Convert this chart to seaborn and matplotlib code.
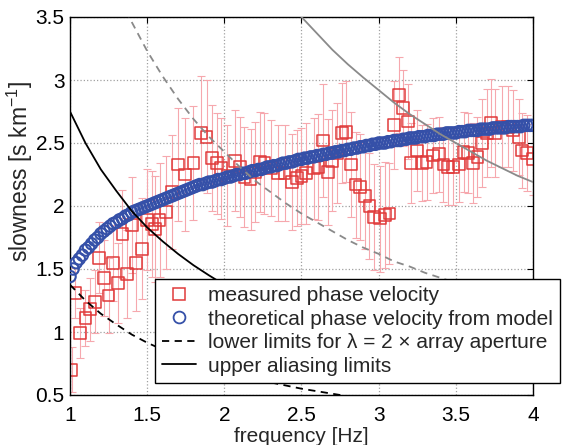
import numpy as np
import matplotlib
matplotlib.use("Agg")
import matplotlib.pyplot as plt
from matplotlib.lines import Line2D
import seaborn as sns

# ---------------- data ----------------
freq_meas = [1.01, 1.03, 1.065, 1.10, 1.13, 1.16, 1.19, 1.22, 1.25, 1.28,
             1.31, 1.34, 1.37, 1.40, 1.43, 1.465, 1.50, 1.53, 1.55, 1.58,
             1.62, 1.66, 1.70, 1.745, 1.80, 1.85, 1.885, 1.92, 1.95, 1.98,
             2.02, 2.07, 2.10, 2.13, 2.17, 2.20, 2.23, 2.26, 2.30, 2.35,
             2.39, 2.44, 2.47, 2.50, 2.53, 2.58, 2.61, 2.64, 2.67, 2.70,
             2.73, 2.76, 2.79, 2.82, 2.85, 2.88, 2.91, 2.94, 2.97, 3.01,
             3.04, 3.07, 3.10, 3.13, 3.16, 3.19, 3.21, 3.25, 3.28, 3.31,
             3.35, 3.39, 3.42, 3.45, 3.48, 3.52, 3.55, 3.58, 3.61, 3.64,
             3.67, 3.70, 3.73, 3.755, 3.80, 3.84, 3.87, 3.91, 3.93, 3.96,
             4.00]
slow_meas = [0.70, 1.31, 0.99, 1.11, 1.18, 1.24, 1.59, 1.43, 1.29, 1.55,
             1.39, 1.78, 1.46, 1.85, 1.55, 1.66, 1.89, 1.86, 1.82, 1.89,
             1.95, 2.11, 2.33, 2.25, 2.34, 2.58, 2.55, 2.38, 2.34, 2.30,
             2.24, 2.36, 2.31, 2.23, 2.21, 2.27, 2.35, 2.34, 2.30, 2.26,
             2.26, 2.19, 2.22, 2.24, 2.26, 2.30, 2.31, 2.52, 2.27, 2.36,
             2.42, 2.58, 2.59, 2.33, 2.17, 2.15, 2.08, 2.00, 1.91, 1.90,
             1.93, 1.94, 2.64, 2.88, 2.78, 2.67, 2.34, 2.44, 2.34, 2.35,
             2.40, 2.41, 2.33, 2.31, 2.31, 2.33, 2.43, 2.42, 2.34, 2.39,
             2.50, 2.58, 2.66, 2.58, 2.63, 2.63, 2.60, 2.55, 2.44, 2.42,
             2.37]
err_meas = [0.18, 0.20, 0.20, 0.22, 0.25, 0.25, 0.28, 0.30, 0.30, 0.30,
            0.32, 0.35, 0.35, 0.38, 0.38, 0.40, 0.40, 0.42, 0.42, 0.45,
            0.45, 0.45, 0.45, 0.45, 0.45, 0.45, 0.45, 0.42, 0.40, 0.40,
            0.40, 0.40, 0.40, 0.40, 0.40, 0.40, 0.40, 0.40, 0.38, 0.38,
            0.38, 0.38, 0.38, 0.38, 0.40, 0.40, 0.42, 0.45, 0.42, 0.40,
            0.40, 0.40, 0.40, 0.42, 0.42, 0.42, 0.42, 0.42, 0.42, 0.42,
            0.42, 0.40, 0.35, 0.30, 0.30, 0.30, 0.32, 0.32, 0.30, 0.30,
            0.30, 0.30, 0.30, 0.30, 0.30, 0.30, 0.32, 0.32, 0.32, 0.32,
            0.35, 0.35, 0.35, 0.35, 0.32, 0.32, 0.32, 0.30, 0.30, 0.30,
            0.28]

freq_theo = np.linspace(1.0, 4.0, 151)
slow_theo = [1.44, 1.50, 1.55, 1.58, 1.61, 1.65, 1.67, 1.70, 1.73, 1.75,
             1.78, 1.80, 1.82, 1.84, 1.86, 1.87, 1.89, 1.90, 1.92, 1.93,
             1.95, 1.96, 1.97, 1.98, 1.99, 2.00, 2.01, 2.02, 2.03, 2.04,
             2.05, 2.06, 2.07, 2.08, 2.09, 2.10, 2.11, 2.12, 2.13, 2.14,
             2.15, 2.16, 2.17, 2.17, 2.18, 2.19, 2.19, 2.20, 2.21, 2.21,
             2.22, 2.23, 2.23, 2.24, 2.25, 2.25, 2.26, 2.26, 2.27, 2.28,
             2.28, 2.29, 2.29, 2.30, 2.31, 2.31, 2.32, 2.32, 2.33, 2.34,
             2.34, 2.35, 2.35, 2.36, 2.37, 2.37, 2.38, 2.38, 2.39, 2.39,
             2.40, 2.40, 2.41, 2.41, 2.42, 2.42, 2.43, 2.43, 2.44, 2.44,
             2.45, 2.45, 2.46, 2.46, 2.47, 2.47, 2.48, 2.48, 2.49, 2.49,
             2.50, 2.50, 2.50, 2.51, 2.51, 2.52, 2.52, 2.52, 2.53, 2.53,
             2.54, 2.54, 2.54, 2.55, 2.55, 2.55, 2.56, 2.56, 2.56, 2.57,
             2.57, 2.57, 2.58, 2.58, 2.58, 2.58, 2.59, 2.59, 2.59, 2.60,
             2.60, 2.60, 2.60, 2.61, 2.61, 2.61, 2.61, 2.62, 2.62, 2.62,
             2.62, 2.62, 2.63, 2.63, 2.63, 2.63, 2.63, 2.64, 2.64, 2.64,
             2.64]

freq_lim = [1.0, 1.1, 1.2, 1.3, 1.4, 1.5, 1.6, 1.7, 1.8, 1.9, 2.0,
            2.1, 2.2, 2.3, 2.4, 2.5, 2.6, 2.7, 2.8, 2.9, 3.0,
            3.1, 3.2, 3.3, 3.4, 3.5, 3.6, 3.7, 3.8, 3.9, 4.0]
upper_alias = [2.75, 2.50, 2.29, 2.12, 1.96, 1.83, 1.72, 1.62, 1.53, 1.45, 1.375,
               1.31, 1.25, 1.20, 1.15, 1.10, 1.06, 1.02, 0.98, 0.95, 0.92,
               0.89, 0.86, 0.83, 0.81, 0.79, 0.76, 0.74, 0.72, 0.71, 0.69]
lower_lambda = [1.375, 1.25, 1.145, 1.06, 0.98, 0.915, 0.86, 0.81, 0.765, 0.725, 0.69,
                0.655, 0.625, 0.60, 0.575, 0.55, 0.53, 0.51, 0.49, 0.475, 0.46,
                0.445, 0.43, 0.415, 0.405, 0.395, 0.38, 0.37, 0.36, 0.355, 0.345]

freq_gray_dash = [1.3, 1.4, 1.5, 1.6, 1.7, 1.8, 1.9, 2.0, 2.1, 2.2, 2.3, 2.4, 2.5, 2.6,
                  2.7, 2.8, 2.9, 3.0, 3.1, 3.2, 3.3, 3.4, 3.5, 3.6, 3.7, 3.8, 3.9, 4.0]
gray_dash = [3.73, 3.46, 3.23, 3.03, 2.85, 2.69, 2.55, 2.43, 2.31, 2.20, 2.11, 2.02, 1.94, 1.87,
             1.80, 1.73, 1.67, 1.62, 1.56, 1.52, 1.47, 1.43, 1.39, 1.35, 1.31, 1.28, 1.24, 1.21]
freq_gray_solid = [2.4, 2.5, 2.6, 2.7, 2.8, 2.9, 3.0, 3.1, 3.2, 3.3, 3.4, 3.5, 3.6, 3.7, 3.8, 3.9, 4.0]
gray_solid = [3.65, 3.50, 3.37, 3.24, 3.125, 3.02, 2.92, 2.82, 2.73, 2.65, 2.57, 2.50, 2.43, 2.36, 2.30, 2.24, 2.19]

xticks = [1, 1.5, 2, 2.5, 3, 3.5, 4]
xticklabels = ["1", "1.5", "2", "2.5", "3", "3.5", "4"]
yticks = [0.5, 1, 1.5, 2, 2.5, 3, 3.5]
yticklabels = ["0.5", "1", "1.5", "2", "2.5", "3", "3.5"]

labels = ["measured phase velocity",
          "theoretical phase velocity from model",
          "lower limits for λ = 2 × array aperture",
          "upper aliasing limits"]

# ---------------- style ----------------
sns.set_style("white")
plt.rcParams['font.family'] = ['Liberation Sans', 'DejaVu Sans']
plt.rcParams['mathtext.fontset'] = 'custom'
plt.rcParams['mathtext.rm'] = 'Liberation Sans'
plt.rcParams['mathtext.it'] = 'Liberation Sans:italic'

RED = '#e03a3a'
PINK = '#f6a8ae'
BLUE = '#3550a8'

fig = plt.figure(figsize=(5.66, 4.45), dpi=100)
ax = fig.add_axes([70/566, 1-395/445, 463/566, 378/445])

ax.errorbar(freq_meas, slow_meas, yerr=err_meas, fmt='none', ecolor=PINK,
            elinewidth=0.8, capsize=3, capthick=0.8, zorder=1)
sns.scatterplot(x=freq_meas, y=slow_meas, marker='s', s=72, facecolor='none',
                edgecolor=RED, linewidth=1.1, ax=ax, zorder=2)
sns.scatterplot(x=freq_theo, y=slow_theo, marker='o', s=68, facecolor='none',
                edgecolor=BLUE, linewidth=1.5, ax=ax, zorder=3)

sns.lineplot(x=freq_gray_dash, y=gray_dash, color='#8a8a8a', lw=1.3,
             linestyle=(0, (4, 3)), ax=ax, zorder=4, sort=False)
sns.lineplot(x=freq_gray_solid, y=gray_solid, color='#8a8a8a', lw=1.3,
             ax=ax, zorder=4, sort=False)
sns.lineplot(x=freq_lim, y=lower_lambda, color='black', lw=1.3,
             linestyle=(0, (4, 3)), ax=ax, zorder=4, sort=False)
sns.lineplot(x=freq_lim, y=upper_alias, color='black', lw=1.3,
             ax=ax, zorder=4, sort=False)

ax.set_xlim(1, 4)
ax.set_ylim(0.5, 3.5)
ax.set_xticks(xticks)
ax.set_xticklabels(xticklabels)
ax.set_yticks(yticks)
ax.set_yticklabels(yticklabels)
ax.tick_params(axis='both', direction='in', length=4, width=0.8, top=True, right=True,
               labelsize=15, colors='black')
ax.tick_params(axis='x', pad=8)
ax.tick_params(axis='y', pad=4)
ax.grid(True, linestyle=':', color='#a0a0a0', linewidth=0.9)
for s in ax.spines.values():
    s.set_color('black')
    s.set_linewidth(1.0)

ax.set_xlabel("frequency [Hz]", fontsize=15, labelpad=1)
ax.set_ylabel(r"slowness [s km$^{-1}$]", fontsize=16.5)
ax.yaxis.set_label_coords(-0.076, 0.59)

handles = [
    Line2D([], [], marker='s', linestyle='none', markersize=8.5,
           markerfacecolor='none', markeredgecolor=RED, markeredgewidth=1.1),
    Line2D([], [], marker='o', linestyle='none', markersize=8.5,
           markerfacecolor='none', markeredgecolor=BLUE, markeredgewidth=1.3),
    Line2D([], [], color='black', lw=1.3, linestyle=(0, (4, 3))),
    Line2D([], [], color='black', lw=1.3),
]
leg = ax.legend(handles=handles, labels=labels, loc='lower left',
                bbox_to_anchor=(85/463, 12/378), borderaxespad=0,
                fontsize=15, frameon=True, fancybox=False, framealpha=1,
                edgecolor='black', handlelength=1.6, handletextpad=0.6,
                labelspacing=0.22, borderpad=0.35)
leg.get_frame().set_linewidth(1.0)
leg.set_zorder(10)

fig.savefig("out.png", dpi=100)
